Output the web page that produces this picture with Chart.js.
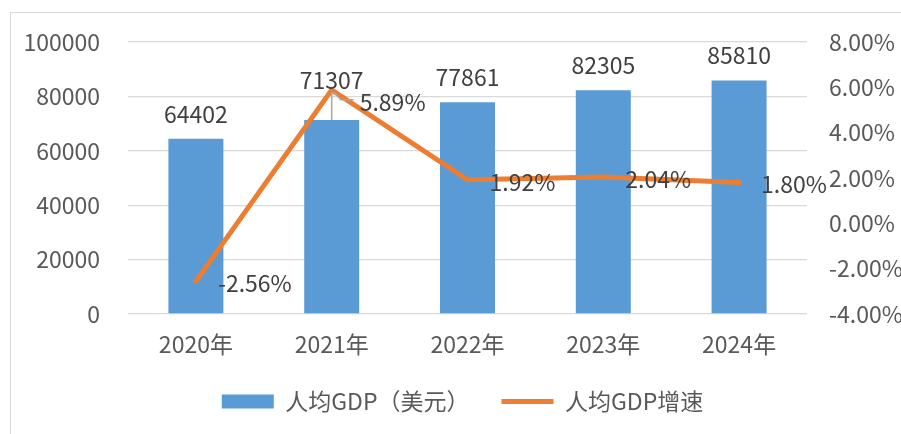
<!DOCTYPE html>
<html>
<head>
<meta charset="utf-8">
<script src="https://cdn.jsdelivr.net/npm/chart.js@4.4.1/dist/chart.umd.min.js"></script>
<style>
  html, body { margin: 0; padding: 0; overflow: hidden; background: #fff; }
  #frame { position: absolute; left: 10px; top: 12px; width: 1000px; height: 1000px; border: 1px solid #d9d9d9; }
  #wrap { position: absolute; left: 0; top: 0; width: 901px; height: 434px; }
</style>
</head>
<body>
<div id="frame"></div>
<div id="wrap"><canvas id="gdpChart" width="901" height="434"></canvas></div>
<script>
const years = ['2020年', '2021年', '2022年', '2023年', '2024年'];
const gdpPerCapita = [64402, 71307, 77861, 82305, 85810];
const gdpGrowth = [-2.56, 5.89, 1.92, 2.04, 1.80];
const growthLabels = ['-2.56%', '5.89%', '1.92%', '2.04%', '1.80%'];

const FONT = "'Noto Sans CJK SC', 'Noto Sans', sans-serif";
const FS = 23;

// data labels + the two leader lines from the reference
const labelPlugin = {
  id: 'labels',
  afterDatasetsDraw(chart) {
    const ctx = chart.ctx;
    const bars = chart.getDatasetMeta(0).data;
    const pts = chart.getDatasetMeta(1).data;
    ctx.save();
    ctx.strokeStyle = '#a6a6a6';
    ctx.lineWidth = 1.5;
    // leader for 71307
    ctx.beginPath();
    ctx.moveTo(bars[1].x, bars[1].y);
    ctx.lineTo(bars[1].x, bars[1].y - 28);
    ctx.stroke();
    // leader for 5.89%
    ctx.beginPath();
    ctx.moveTo(pts[1].x + 2, pts[1].y + 2);
    ctx.lineTo(pts[1].x + 9, pts[1].y + 10);
    ctx.lineTo(pts[1].x + 22, pts[1].y + 10);
    ctx.stroke();

    ctx.font = FS + 'px ' + FONT;
    ctx.fillStyle = '#404040';
    ctx.textBaseline = 'middle';
    ctx.textAlign = 'center';
    bars.forEach((b, i) => {
      const dy = i === 1 ? 40 : 25;
      ctx.fillText(String(gdpPerCapita[i]), b.x, b.y - dy);
    });
    ctx.textAlign = 'left';
    pts.forEach((p, i) => {
      const dx = i === 1 ? 28 : 22;
      const dy = i === 1 ? 12 : 2;
      ctx.fillText(growthLabels[i], p.x + dx, p.y + dy);
    });
    ctx.restore();
  }
};

new Chart(document.getElementById('gdpChart'), {
  data: {
    labels: years,
    datasets: [
      {
        type: 'bar',
        label: '人均GDP（美元）',
        data: gdpPerCapita,
        backgroundColor: '#5b9bd5',
        borderWidth: 0,
        categoryPercentage: 1,
        barPercentage: 0.405,
        yAxisID: 'y',
        pointStyle: 'rect'
      },
      {
        type: 'line',
        label: '人均GDP增速',
        data: gdpGrowth,
        borderColor: '#ed7d31',
        backgroundColor: '#ed7d31',
        borderWidth: 5,
        borderCapStyle: 'round',
        pointRadius: 0,
        pointStyle: 'line',
        tension: 0,
        yAxisID: 'y1',
        order: -1
      }
    ]
  },
  options: {
    responsive: false,
    animation: false,
    layout: { padding: { top: 42, left: 24, right: 0, bottom: 11 } },
    scales: {
      x: {
        grid: { display: false, drawTicks: false },
        border: { display: false },
        ticks: { color: '#595959', font: { family: FONT, size: FS }, padding: 16 },
        afterFit: s => { s.height = 44; }
      },
      y: {
        position: 'left',
        min: 0, max: 100000,
        ticks: { stepSize: 20000, color: '#595959', font: { family: FONT, size: FS }, padding: 28,
          callback: v => String(v) },
        grid: { color: '#d9d9d9', lineWidth: 1.3, drawTicks: false },
        border: { display: false },
        afterFit: s => { s.width = 104; }
      },
      y1: {
        position: 'right',
        min: -4, max: 8,
        ticks: { stepSize: 2, color: '#595959', font: { family: FONT, size: FS }, padding: 22,
          callback: v => v.toFixed(2) + '%' },
        grid: { display: false, drawTicks: false },
        border: { display: false },
        afterFit: s => { s.width = 94; }
      }
    },
    plugins: {
      tooltip: { enabled: false },
      legend: {
        position: 'bottom',
        labels: {
          usePointStyle: true,
          pointStyleWidth: 52,
          boxWidth: 52,
          boxHeight: 14,
          padding: 32,
          color: '#595959',
          font: { family: FONT, size: FS },
          sort: (a, b) => a.datasetIndex - b.datasetIndex
        }
      }
    }
  },
  plugins: [labelPlugin]
});
</script>
</body>
</html>
